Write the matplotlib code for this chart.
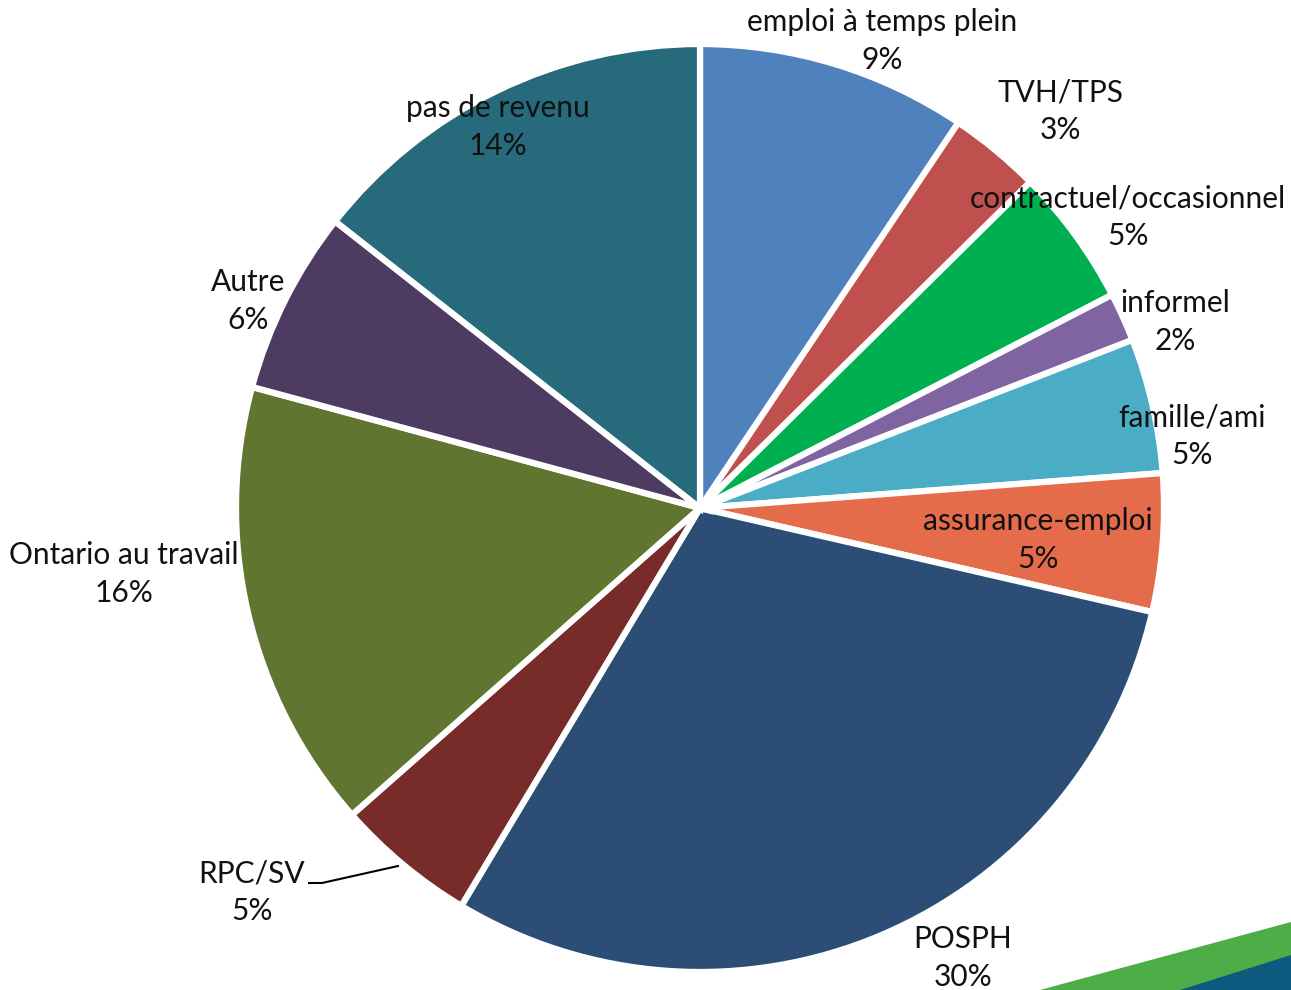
import matplotlib.pyplot as plt
from matplotlib.patches import Polygon

plt.rcParams["font.family"] = ["Lato", "DejaVu Sans"]

# income sources, clockwise from the top
categories = [
    "emploi à temps plein", "TVH/TPS", "contractuel/occasionnel", "informel",
    "famille/ami", "assurance-emploi", "POSPH", "RPC/SV",
    "Ontario au travail", "Autre", "pas de revenu",
]
shares = [9.4, 3.2, 4.8, 1.7, 4.7, 4.8, 30.0, 4.9, 15.7, 6.4, 14.4]
colors = [
    "#4F81BD", "#C0504D", "#00B050", "#8064A2", "#4BACC6", "#E46C4A",
    "#2C4D75", "#772C2A", "#5F7530", "#4D3B62", "#276A7C",
]
# label centres in pixel space (x, y from top)
label_pos = [
    (882, 41), (1060, 111), (1128, 217), (1175, 322), (1192, 436),
    (1038, 540), (963, 958), (252, 892), (124, 574), (248, 301), (498, 127),
]

W, H = 1291, 990
fig = plt.figure(figsize=(W / 100, H / 100), dpi=100)
ax = fig.add_axes([0, 0, 1, 1])

# decorative stripes bottom-right
ax.add_patch(Polygon([(1040, 0), (W, H - 922), (W, 0)], closed=True,
                     facecolor="#4DAE48", edgecolor="none", zorder=0))
ax.add_patch(Polygon([(1180, 0), (W, H - 955), (W, 0)], closed=True,
                     facecolor="#0E5A7E", edgecolor="none", zorder=0))

ax.pie(shares, colors=colors, startangle=90, counterclock=False,
       center=(700, H - 508), radius=464, frame=True,
       wedgeprops=dict(edgecolor="white", linewidth=4.5))
ax.set_xlim(0, W)
ax.set_ylim(0, H)
ax.set_aspect("equal")
ax.axis("off")

for name, val, (x, y) in zip(categories, shares, label_pos):
    ax.text(x, H - y, f"{name}\n{val:.0f}%", ha="center", va="center",
            fontsize=21.5, color="#111111", linespacing=1.42, zorder=5)

# leader line for RPC/SV
ax.plot([309, 322, 398], [H - 883, H - 883, H - 866], color="black", lw=1.5, zorder=5)

fig.savefig("out.png", dpi=100)
